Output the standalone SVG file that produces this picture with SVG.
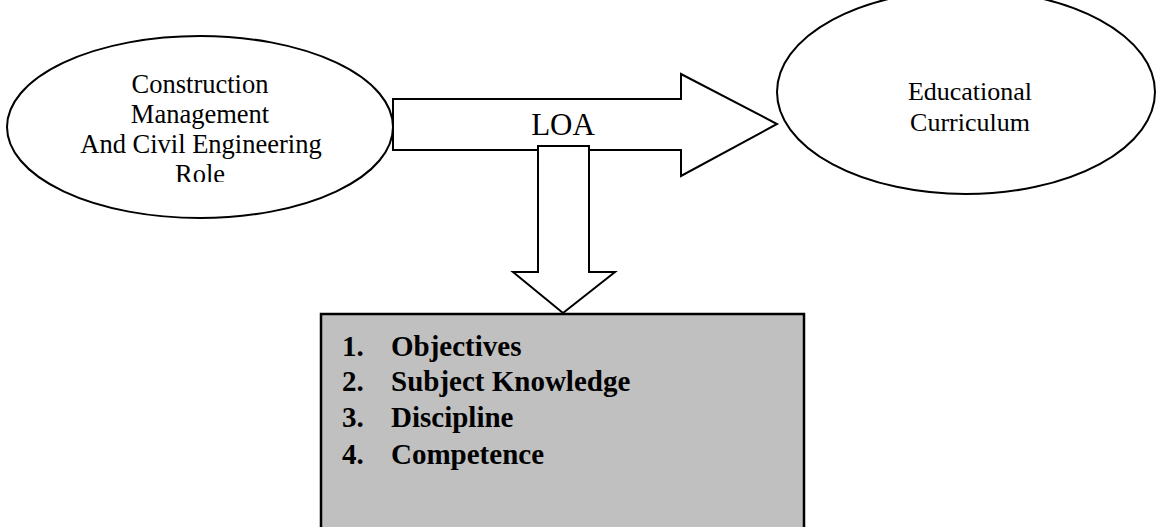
<svg xmlns="http://www.w3.org/2000/svg" width="1156" height="527" viewBox="0 0 1156 527">
  <style>
    .shape { fill: #ffffff; stroke: #000000; stroke-width: 2; }
    .label { font-family: "Liberation Serif", "Times New Roman", serif; fill: #000000; text-anchor: middle; }
    .item { font-family: "Liberation Serif", "Times New Roman", serif; font-weight: bold; font-size: 29px; fill: #000000; }
  </style>
  <defs>
    <clipPath id="roleClip">
      <rect x="0" y="0" width="400" height="182"/>
    </clipPath>
  </defs>
  <rect width="1156" height="527" fill="#ffffff"/>

  <g id="node-role">
    <ellipse class="shape" cx="200" cy="127" rx="193" ry="91"/>
    <g class="label" font-size="26.5" clip-path="url(#roleClip)">
      <text x="200" y="93">Construction</text>
      <text x="200" y="123">Management</text>
      <text x="201" y="153">And Civil Engineering</text>
      <text x="200" y="183">Role</text>
    </g>
  </g>

  <g id="node-curriculum">
    <ellipse class="shape" cx="966" cy="92" rx="189" ry="102"/>
    <g class="label" font-size="26">
      <text x="970" y="100">Educational</text>
      <text x="970" y="131">Curriculum</text>
    </g>
  </g>

  <g id="node-outcomes">
    <rect x="321" y="314" width="483" height="230" fill="#c0c0c0" stroke="#000000" stroke-width="2.5"/>
    <g class="item">
      <text x="342" y="356">1.</text><text x="391" y="356">Objectives</text>
      <text x="342" y="391">2.</text><text x="391" y="391">Subject Knowledge</text>
      <text x="342" y="427">3.</text><text x="391" y="427">Discipline</text>
      <text x="342" y="464">4.</text><text x="391" y="464">Competence</text>
    </g>
  </g>

  <g id="connectors">
    <g id="arrow-loa">
      <polygon class="shape" points="393,99 681,99 681,74 777,124 681,176 681,150 393,150"/>
      <text class="label" x="563" y="135" font-size="31">LOA</text>
    </g>
    <g id="arrow-down">
      <polygon class="shape" points="538,146 589,146 589,272 615,272 563,313 513,272 538,272"/>
    </g>
  </g>
</svg>
